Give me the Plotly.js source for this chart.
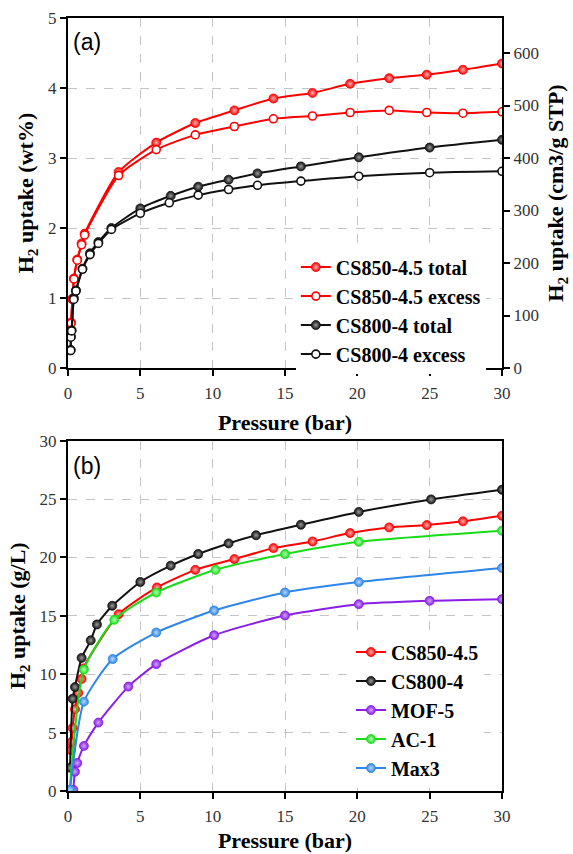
<!DOCTYPE html>
<html>
<head>
<meta charset="utf-8">
<script src="https://cdn.plot.ly/plotly-3.0.1.min.js"></script>
<style>html,body{margin:0;padding:0;background:#fff;}#chart{width:573px;height:854px;}</style>
</head>
<body>
<div id="chart"></div>
<script>
// ---------- Panel (a): gravimetric uptake (wt%) ----------
const cs850TotalP = [0.21,0.30,0.41,0.64,0.94,1.15,3.5,6.1,8.8,11.5,14.2,16.9,19.5,22.2,24.8,27.3,30.0];
const cs850TotalW = [0.65,0.99,1.28,1.55,1.78,1.92,2.80,3.22,3.50,3.68,3.85,3.93,4.06,4.14,4.19,4.26,4.35];
const cs850ExcessP = [0.21,0.30,0.41,0.64,0.94,1.15,3.5,6.1,8.8,11.5,14.2,16.9,19.5,22.2,24.8,27.3,30.0];
const cs850ExcessW = [0.64,0.98,1.27,1.54,1.76,1.90,2.75,3.12,3.33,3.45,3.56,3.60,3.65,3.68,3.65,3.64,3.66];
const cs800TotalP = [0.19,0.20,0.25,0.40,0.55,1.0,1.52,2.1,3.0,5.0,7.1,9.0,11.1,13.1,16.1,20.1,25.0,30.0];
const cs800TotalW = [0.26,0.45,0.54,1.0,1.11,1.42,1.64,1.80,2.0,2.28,2.46,2.59,2.69,2.78,2.88,3.01,3.15,3.26];
const cs800ExcessP = [0.19,0.20,0.25,0.40,0.55,1.0,1.52,2.1,3.0,5.0,7.0,9.0,11.1,13.1,16.1,20.1,25.0,30.0];
const cs800ExcessW = [0.25,0.44,0.53,0.98,1.10,1.41,1.62,1.78,1.98,2.21,2.36,2.47,2.55,2.61,2.67,2.74,2.79,2.81];

// ---------- Panel (b): volumetric uptake (g/L) ----------
const cs850P = [0.21,0.25,0.32,0.48,0.71,0.94,1.06,3.5,6.15,8.8,11.5,14.2,16.9,19.5,22.2,24.8,27.3,30.0];
const cs850V = [3.5,4.2,5.4,7.0,8.4,9.6,10.5,15.14,17.43,18.94,19.86,20.8,21.37,22.09,22.57,22.77,23.09,23.57];
const cs800P = [0.14,0.32,0.48,0.94,1.57,2.0,3.06,5.0,7.1,9.0,11.1,13.0,16.1,20.1,25.1,30.0];
const cs800V = [2.0,7.9,8.9,11.4,12.9,14.26,15.86,17.9,19.3,20.3,21.2,21.9,22.8,23.9,24.97,25.8];
const mofP = [0.37,0.48,0.64,1.1,2.1,4.17,6.1,10.1,15.0,20.1,25.0,30.0];
const mofV = [0.1,1.65,2.4,3.86,5.86,8.94,10.86,13.34,15.03,16.0,16.29,16.43];
const ac1P = [0.12,1.1,3.2,6.1,10.2,15.0,20.1,30.0];
const ac1V = [0.1,10.4,14.66,17.0,18.94,20.29,21.34,22.29];
const max3P = [0.14,1.1,3.09,6.1,10.1,15.0,20.1,30.0];
const max3V = [0.1,7.65,11.3,13.57,15.46,17.0,17.89,19.09];

const xTicks = [0,5,10,15,20,25,30];
const legendA = ['CS850-4.5 total','CS850-4.5 excess','CS800-4 total','CS800-4 excess'];
const legendB = ['CS850-4.5','CS800-4','MOF-5','AC-1','Max3'];
const wtToCm3 = 133.33;

const RED = '#ff0000', BLACK = '#111111', PURPLE = '#8a1ee6', GREEN = '#18dc18', BLUE = '#2f86e8';
const serif = 'Liberation Serif';

function filled(x, y, name, color, light, xa, ya, leg) {
  return {x, y, name:name, type:'scatter', mode:'lines+markers', xaxis:xa, yaxis:ya, legend:leg,
    line:{color, width:2, shape:'spline', smoothing:0.6},
    marker:{symbol:'circle', size:9, color, gradient:{type:'radial', color:light}, line:{color, width:0.8}}};
}
function open(x, y, name, color, xa, ya, leg) {
  return {x, y, name:name, type:'scatter', mode:'lines+markers', xaxis:xa, yaxis:ya, legend:leg,
    line:{color, width:2, shape:'spline', smoothing:0.6},
    marker:{symbol:'circle', size:8, color:'#ffffff', line:{color, width:1.6}}};
}

const traces = [
  filled(cs850TotalP, cs850TotalW, legendA[0], RED, '#ffb3b3', 'x', 'y', 'legend'),
  open(cs850ExcessP, cs850ExcessW, legendA[1], RED, 'x', 'y', 'legend'),
  filled(cs800TotalP, cs800TotalW, legendA[2], BLACK, '#9a9a9a', 'x', 'y', 'legend'),
  open(cs800ExcessP, cs800ExcessW, legendA[3], BLACK, 'x', 'y', 'legend'),
  // invisible trace to activate right axis (cm3/g STP)
  {x:[0,30], y:[0,0], xaxis:'x', yaxis:'y3', type:'scatter', mode:'lines', line:{width:0}, showlegend:false, hoverinfo:'skip'},
  filled(cs850P, cs850V, legendB[0], RED, '#ffb3b3', 'x2', 'y2', 'legend2'),
  filled(cs800P, cs800V, legendB[1], BLACK, '#9a9a9a', 'x2', 'y2', 'legend2'),
  filled(mofP, mofV, legendB[2], PURPLE, '#d2a8ff', 'x2', 'y2', 'legend2'),
  filled(ac1P, ac1V, legendB[3], GREEN, '#b8ffb8', 'x2', 'y2', 'legend2'),
  filled(max3P, max3V, legendB[4], BLUE, '#b8d8ff', 'x2', 'y2', 'legend2')
];

const tickFont = {family: serif, size: 17, color: '#333'};
const titleFont = {family: serif, size: 22, color: '#000'};
const gridCommon = {showgrid:true, gridcolor:'#c4c4c4', gridwidth:1, griddash:'dash', zeroline:false,
  showline:true, linecolor:'#000', linewidth:2, ticks:'outside', ticklen:6, tickwidth:2, tickcolor:'#000', tickfont:tickFont};

const legFont = {family:'Times New Roman', size:20, color:'#000', weight:700};

const layout = {
  width:573, height:854,
  font:{family:serif, color:'#000'},
  margin:{l:68, r:71, t:18, b:63},
  paper_bgcolor:'#fff', plot_bgcolor:'#fff',
  showlegend:true,
  xaxis: Object.assign({}, gridCommon, {domain:[0,1], anchor:'y', range:[0,30], tickvals:xTicks, mirror:true,
    ticklabelstandoff:3, title:{text:'<b>Pressure (bar)</b>', font:titleFont, standoff:12}}),
  yaxis: Object.assign({}, gridCommon, {domain:[0.5472,1], anchor:'x', range:[0,5], dtick:1, mirror:true,
    title:{text:'<b>H<sub>2</sub> uptake (wt%)</b>', font:titleFont, standoff:8}}),
  yaxis3: {overlaying:'y', side:'right', anchor:'x', range:[0, 5*wtToCm3], dtick:100, showgrid:false, zeroline:false,
    showline:true, linecolor:'#000', linewidth:2, ticks:'outside', ticklen:6, tickwidth:2, tickcolor:'#000', tickfont:tickFont,
    title:{text:'<b>H<sub>2</sub> uptake (cm3/g STP)</b>', font:titleFont, standoff:10}},
  xaxis2: Object.assign({}, gridCommon, {domain:[0,1], anchor:'y2', range:[0,30], tickvals:xTicks, mirror:true,
    ticklabelstandoff:3, title:{text:'<b>Pressure (bar)</b>', font:titleFont, standoff:7}}),
  yaxis2: Object.assign({}, gridCommon, {domain:[0,0.4532], anchor:'x2', range:[0,30], dtick:5, mirror:true,
    title:{text:'<b>H<sub>2</sub> uptake (g/L)</b>', font:titleFont, standoff:8}}),
  legend: {x:0.525, y:0.703, xanchor:'left', yanchor:'top', bgcolor:'#fff', borderwidth:0,
    font:legFont, itemwidth:30, tracegroupgap:0},
  legend2: {x:0.652, y:0.205, xanchor:'left', yanchor:'top', bgcolor:'#fff', borderwidth:0,
    font:legFont, itemwidth:30, tracegroupgap:0},
  annotations: [
    {text:'(a)', xref:'paper', yref:'paper', x:0.006, y:0.969, xanchor:'left', yanchor:'middle', showarrow:false,
      font:{family:'Liberation Sans', size:23, color:'#000'}},
    {text:'(b)', xref:'paper', yref:'paper', x:0.006, y:0.421, xanchor:'left', yanchor:'middle', showarrow:false,
      font:{family:'Liberation Sans', size:23, color:'#000'}}
  ]
};

Plotly.newPlot('chart', traces, layout, {displayModeBar:false, staticPlot:true}).then(function(gd){
  // ensure the legend labels use the serif face
  document.querySelectorAll('.legendtext').forEach(function(t){
    t.style.fontFamily = '"Liberation Serif", "Times New Roman", serif';
    t.style.fontWeight = '700';
  });
});
</script>
</body>
</html>
